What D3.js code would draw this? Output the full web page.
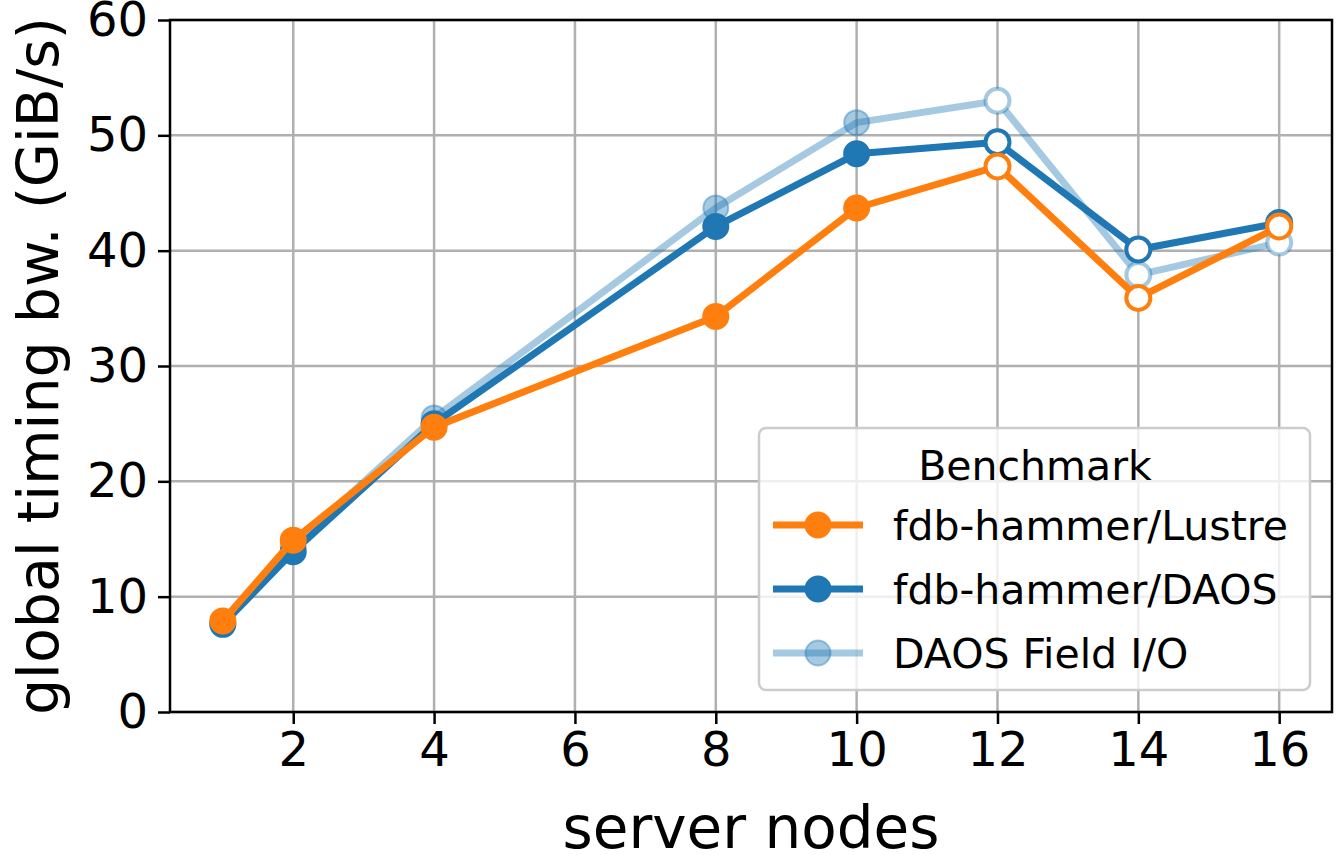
<!DOCTYPE html>
<html>
  <head>
    <script src="https://unpkg.com/d3@7/dist/d3.min.js"></script>
    <style>
      body { margin: 0; background: #fff; }
      text { font-family: "DejaVu Sans", sans-serif; }
    </style>
  </head>
  <body>
    <script>
      // data
      const nodes = [1, 2, 4, 8, 10, 12, 14, 16];
      const lustre = [7.9, 14.9, 24.7, 34.3, 43.7, 47.3, 35.9, 42.1];
      const daos = [7.6, 13.9, 25.0, 42.1, 48.4, 49.4, 40.1, 42.4];
      const fieldIO = [7.7, 14.4, 25.5, 43.7, 51.1, 53.0, 37.9, 40.7];
      const hollowFrom = 12;   // markers from 12 nodes on are drawn open
      const xTicks = [2, 4, 6, 8, 10, 12, 14, 16];
      const yTicks = [0, 10, 20, 30, 40, 50, 60];

      const width = 1336, height = 855;
      const margin = {top: 20, right: 4, bottom: 143, left: 170};

      const svg = d3.select('body').append('svg')
        .attr('width', width).attr('height', height);

      const x = d3.scaleLinear().domain([0.25, 16.75])
        .range([margin.left, width - margin.right]);
      const y = d3.scaleLinear().domain([0, 60])
        .range([height - margin.bottom, margin.top]);

      // grid
      const grid = svg.append('g');
      grid.selectAll('line.gx').data(xTicks).join('line')
        .attr('x1', d => x(d)).attr('x2', d => x(d))
        .attr('y1', y(0)).attr('y2', y(60))
        .attr('stroke', '#b0b0b0').attr('stroke-width', 2.5);
      grid.selectAll('line.gy').data(yTicks).join('line')
        .attr('x1', x.range()[0]).attr('x2', x.range()[1])
        .attr('y1', d => y(d)).attr('y2', d => y(d))
        .attr('stroke', '#b0b0b0').attr('stroke-width', 2.5);

      // series
      const series = [
        {name: 'DAOS Field I/O', values: fieldIO, color: '#1f77b4', alpha: 0.4},
        {name: 'fdb-hammer/DAOS', values: daos, color: '#1f77b4', alpha: 1},
        {name: 'fdb-hammer/Lustre', values: lustre, color: '#ff7f0e', alpha: 1}
      ];
      const line = d3.line().x(d => x(d[0])).y(d => y(d[1]));

      series.forEach(s => {
        const pts = nodes.map((n, i) => [n, s.values[i]]);
        const g = svg.append('g');
        g.append('path').datum(pts)
          .attr('d', line)
          .attr('fill', 'none')
          .attr('stroke', s.color)
          .attr('stroke-opacity', s.alpha)
          .attr('stroke-width', 7)
          .attr('stroke-linejoin', 'round');
        g.selectAll('circle').data(pts).join('circle')
          .attr('cx', d => x(d[0])).attr('cy', d => y(d[1]))
          .attr('r', d => d[0] >= hollowFrom ? 12 : 12.5)
          .attr('fill', d => d[0] >= hollowFrom ? '#fff' : s.color)
          .attr('fill-opacity', d => d[0] >= hollowFrom ? 1 : s.alpha)
          .attr('stroke', s.color)
          .attr('stroke-opacity', s.alpha)
          .attr('stroke-width', d => d[0] >= hollowFrom ? 4 : 2);
      });

      // axes
      const xAxis = d3.axisBottom(x).tickValues(xTicks).tickSize(12).tickPadding(8);
      const yAxis = d3.axisLeft(y).tickValues(yTicks).tickSize(12).tickPadding(10);
      const gx = svg.append('g').attr('transform', `translate(0,${y(0)})`).call(xAxis);
      const gy = svg.append('g').attr('transform', `translate(${x.range()[0]},0)`).call(yAxis);
      [gx, gy].forEach(g => {
        g.select('.domain').remove();
        g.selectAll('.tick line').attr('stroke', '#000').attr('stroke-width', 2.5);
        g.selectAll('.tick text').attr('font-size', 48).attr('fill', '#000')
          .style('font-family', '"DejaVu Sans", sans-serif');
      });

      // frame
      svg.append('rect')
        .attr('x', x.range()[0]).attr('y', y(60))
        .attr('width', x.range()[1] - x.range()[0])
        .attr('height', y(0) - y(60))
        .attr('fill', 'none').attr('stroke', '#000').attr('stroke-width', 2.5);

      // axis labels
      svg.append('text')
        .attr('x', (x.range()[0] + x.range()[1]) / 2).attr('y', 848)
        .attr('text-anchor', 'middle').attr('font-size', 58)
        .text('server nodes');
      svg.append('text')
        .attr('transform', `translate(58,${(y(0) + y(60)) / 2}) rotate(-90)`)
        .attr('text-anchor', 'middle').attr('font-size', 57)
        .text('global timing bw. (GiB/s)');

      // legend
      const lg = svg.append('g').attr('transform', 'translate(759,428)');
      lg.append('rect').attr('width', 551).attr('height', 262)
        .attr('rx', 7).attr('fill', '#fff').attr('fill-opacity', 0.8)
        .attr('stroke', '#cccccc').attr('stroke-width', 2.5);
      lg.append('text').attr('x', 276).attr('y', 52)
        .attr('text-anchor', 'middle').attr('font-size', 41).text('Benchmark');
      const legendOrder = [series[2], series[1], series[0]];
      legendOrder.forEach((s, i) => {
        const cy = 97 + i * 64;
        const row = lg.append('g');
        row.append('line').attr('x1', 14).attr('x2', 104)
          .attr('y1', cy).attr('y2', cy)
          .attr('stroke', s.color).attr('stroke-opacity', s.alpha)
          .attr('stroke-width', 7);
        row.append('circle').attr('cx', 59).attr('cy', cy).attr('r', 12.5)
          .attr('fill', s.color).attr('fill-opacity', s.alpha)
          .attr('stroke', s.color).attr('stroke-opacity', s.alpha)
          .attr('stroke-width', 2);
        row.append('text').attr('x', 134).attr('y', cy + 15)
          .attr('font-size', 41).text(s.name);
      });
    </script>
  </body>
</html>
